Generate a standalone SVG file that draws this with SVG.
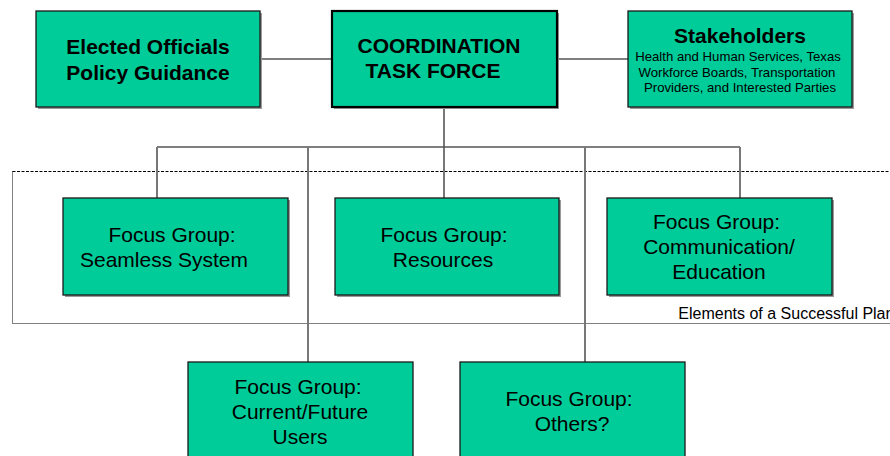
<svg xmlns="http://www.w3.org/2000/svg" width="890" height="456" viewBox="0 0 890 456">
<style>
.box{fill:#00CC99;stroke:#1a1a1a;stroke-width:1.3}
.main{fill:#00CC99;stroke:#000;stroke-width:2.2}
.sh{fill:#9a9a9a}
.b{font-family:"Liberation Sans",Arial,sans-serif;font-weight:bold;font-size:21px;fill:#000;text-anchor:middle}
.r{font-family:"Liberation Sans",Arial,sans-serif;font-size:21px;fill:#000;text-anchor:middle}
.s{font-family:"Liberation Sans",Arial,sans-serif;font-size:13.2px;fill:#000;text-anchor:middle}
.conn line{stroke:#777;stroke-width:2}
.conn line.h{stroke:#555;stroke-width:1.3}
</style>
<rect width="890" height="456" fill="#fff"/>
<g id="frame" fill="none" stroke="#000" stroke-width="1">
<line x1="12.5" y1="171.5" x2="890" y2="171.5" stroke-dasharray="3,1.5"/>
<line x1="12.5" y1="171.5" x2="12.5" y2="323.5" stroke-dasharray="1,1"/>
<line x1="12.5" y1="323.5" x2="890" y2="323.5" stroke-dasharray="1,1"/>
</g>
<g class="conn" id="connectors">
<line class="h" x1="260" y1="59" x2="332" y2="59"/>
<line class="h" x1="557" y1="59" x2="628" y2="59"/>
<line x1="444" y1="107" x2="444" y2="198"/>
<line class="h" x1="157" y1="147" x2="740" y2="147"/>
<line x1="157" y1="147" x2="157" y2="198"/>
<line x1="308" y1="147" x2="308" y2="362"/>
<line x1="585" y1="147" x2="585" y2="362"/>
<line x1="740" y1="147" x2="740" y2="198"/>
</g>
<g id="elected">
<rect class="sh" x="38" y="13" width="224" height="96"/>
<rect class="box" x="36" y="11" width="224" height="96"/>
<text class="b" x="148" y="54">Elected Officials</text>
<text class="b" x="148" y="80">Policy Guidance</text>
</g>
<g id="coordination">
<rect class="sh" x="334" y="13" width="225" height="96"/>
<rect class="main" x="332" y="11" width="225" height="96"/>
<text class="b" x="439" y="53">COORDINATION</text>
<text class="b" x="433" y="78">TASK FORCE</text>
</g>
<g id="stakeholders">
<rect class="sh" x="630" y="13" width="224" height="96"/>
<rect class="box" x="628" y="11" width="224" height="96"/>
<text class="b" x="740" y="43">Stakeholders</text>
<text class="s" x="738" y="61">Health and Human Services, Texas</text>
<text class="s" x="737" y="76.5">Workforce Boards, Transportation</text>
<text class="s" x="740" y="92">Providers, and Interested Parties</text>
</g>
<g id="seamless">
<rect class="sh" x="65" y="200" width="225" height="97"/>
<rect class="box" x="63" y="198" width="225" height="97"/>
<text class="r" x="172" y="241.5">Focus Group:</text>
<text class="r" x="164" y="266.5">Seamless System</text>
</g>
<g id="resources">
<rect class="sh" x="337" y="200" width="224" height="97"/>
<rect class="box" x="335" y="198" width="224" height="97"/>
<text class="r" x="444" y="241.5">Focus Group:</text>
<text class="r" x="443" y="266.5">Resources</text>
</g>
<g id="communication">
<rect class="sh" x="609" y="200" width="225" height="97"/>
<rect class="box" x="607" y="198" width="225" height="97"/>
<text class="r" x="716.5" y="229">Focus Group:</text>
<text class="r" x="719" y="253.5">Communication/</text>
<text class="r" x="719" y="279">Education</text>
</g>
<text x="678.3" y="319" font-family="Liberation Sans, Arial, sans-serif" font-size="16" fill="#000">Elements of a Successful Plan</text>
<g id="current">
<rect class="box" x="188" y="362" width="225" height="100"/>
<text class="r" x="298" y="393.5">Focus Group:</text>
<text class="r" x="300" y="418.5">Current/Future</text>
<text class="r" x="300" y="444">Users</text>
</g>
<g id="others">
<rect class="box" x="460" y="362" width="225" height="100"/>
<text class="r" x="569" y="406">Focus Group:</text>
<text class="r" x="572" y="431">Others?</text>
</g>
</svg>
